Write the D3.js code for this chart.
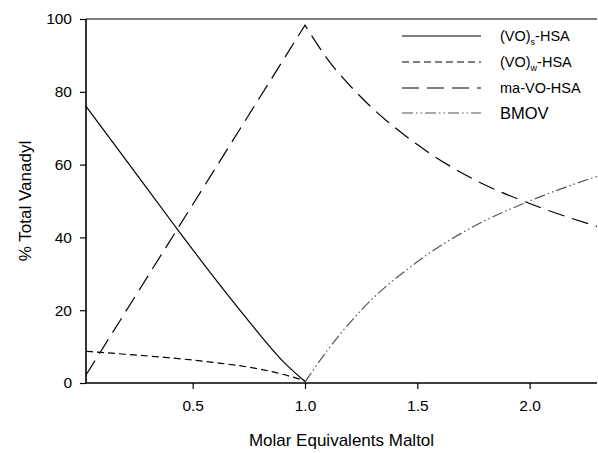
<!DOCTYPE html>
<html>
<head>
<meta charset="utf-8">
<script src="https://cdn.jsdelivr.net/npm/d3@7"></script>
<style>
  html, body { margin: 0; padding: 0; background: #fff; }
  svg { display: block; font-family: "Liberation Sans", Arial, sans-serif; }
</style>
</head>
<body>
<svg id="chart" width="598" height="453"></svg>
<script>
// Species distribution of vanadyl vs. added maltol
const xTicks = [0.5, 1.0, 1.5, 2.0];
const yTicks = [0, 20, 40, 60, 80, 100];

// (VO)s-HSA
const strongX = [0.025, 0.2, 0.42, 0.6, 0.755, 0.9, 1.0];
const strongY = [76, 61.5, 43.2, 28.6, 16.6, 6.1, 0.4];

// (VO)w-HSA
const weakX = [0.025, 0.2, 0.4, 0.6, 0.8, 0.9, 1.0];
const weakY = [8.7, 7.9, 6.9, 5.6, 3.8, 2.4, 0.6];

// ma-VO-HSA (straight rise to the peak, then decay)
const maRiseX = [0.025, 1.0];
const maRiseY = [2.2, 98.3];
const maFallX = [1.0, 1.1, 1.25, 1.5, 1.75, 2.0, 2.3];
const maFallY = [98.3, 89, 78.5, 65.5, 56, 49.3, 43];

// BMOV
const bmovX = [1.0, 1.1, 1.25, 1.5, 1.75, 2.0, 2.3];
const bmovY = [0.3, 9, 20, 33.3, 43, 50, 56.8];

const legendItems = [
  { base: "(VO)", sub: "s", rest: "-HSA", dash: null, color: "#000" },
  { base: "(VO)", sub: "w", rest: "-HSA", dash: "7,4", color: "#000" },
  { base: "ma-VO-HSA", sub: "", rest: "", dash: "17,8", color: "#000" },
  { base: "BMOV", sub: "", rest: "", dash: "11,3,1.5,3,1.5,3", color: "#555" }
];

const svg = d3.select("#chart");
const margin = { left: 86, right: 1, top: 19, bottom: 70 };
const W = 598, H = 453;

const x = d3.scaleLinear().domain([0.025, 2.3]).range([margin.left, W - margin.right]);
const y = d3.scaleLinear().domain([0, 100]).range([H - margin.bottom, margin.top]);

const zip = (xs, ys) => xs.map((v, i) => [v, ys[i]]);
const smooth = d3.line().x(d => x(d[0])).y(d => y(d[1])).curve(d3.curveMonotoneX);
const straight = d3.line().x(d => x(d[0])).y(d => y(d[1])).curve(d3.curveLinear);

const plot = svg.append("g");

function drawPath(d, dash, color) {
  plot.append("path")
    .attr("d", d)
    .attr("fill", "none")
    .attr("stroke", color)
    .attr("stroke-width", 1.2)
    .attr("stroke-dasharray", dash);
}

drawPath(smooth(zip(strongX, strongY)), null, "#000");
drawPath(smooth(zip(weakX, weakY)), "7,4", "#000");
// one continuous path so the dash pattern runs through the sharp peak
const maPath = straight(zip(maRiseX, maRiseY)) + smooth(zip(maFallX, maFallY)).replace(/^M[^C]*?(?=C)/, "");
drawPath(maPath, "17,8", "#000");
drawPath(smooth(zip(bmovX, bmovY)), "11,3,1.5,3,1.5,3", "#555");

// Top frame line
svg.append("line")
  .attr("x1", margin.left).attr("x2", W - margin.right)
  .attr("y1", y(100)).attr("y2", y(100))
  .attr("stroke", "#000").attr("stroke-width", 1.2);

// Axes
const xAxis = d3.axisBottom(x).tickValues(xTicks).tickFormat(d3.format(".1f")).tickSize(6).tickPadding(11);
const yAxis = d3.axisLeft(y).tickValues(yTicks).tickFormat(d3.format("d")).tickSize(6).tickPadding(8);

const gx = svg.append("g").attr("transform", `translate(0,${y(0)})`).call(xAxis);
const gy = svg.append("g").attr("transform", `translate(${margin.left},0)`).call(yAxis);

[gx, gy].forEach(g => {
  g.select(".domain").attr("stroke", "#000").attr("stroke-width", 1.6);
  g.selectAll(".tick line").attr("stroke", "#000").attr("stroke-width", 1.2);
  g.selectAll(".tick text")
    .attr("fill", "#000")
    .style("font-size", "15.5px")
    .style("font-family", "Liberation Sans, Arial, sans-serif");
});
gy.select(".domain").attr("d", `M0,${y(0)}V${y(100)}`);
gx.select(".domain").attr("d", `M${margin.left},0H${W - margin.right}`);

// Axis titles
svg.append("text")
  .attr("x", (margin.left + W - margin.right) / 2)
  .attr("y", 446)
  .attr("text-anchor", "middle")
  .style("font-size", "17px")
  .text("Molar Equivalents Maltol");

svg.append("text")
  .attr("transform", `translate(31,${(y(0) + y(100)) / 2}) rotate(-90)`)
  .attr("text-anchor", "middle")
  .style("font-size", "17px")
  .text("% Total Vanadyl");

// Legend
const legend = svg.append("g");
const rowY = [36, 62, 88, 113];
legendItems.forEach((item, i) => {
  legend.append("line")
    .attr("x1", 402).attr("x2", 481)
    .attr("y1", rowY[i]).attr("y2", rowY[i])
    .attr("stroke", item.color)
    .attr("stroke-width", 1.2)
    .attr("stroke-dasharray", item.dash);
  const big = item.base === "BMOV";
  const t = legend.append("text")
    .attr("x", 500)
    .attr("y", rowY[i] + (big ? 6 : 5))
    .style("font-size", big ? "16.5px" : "14.5px");
  t.append("tspan").text(item.base);
  if (item.sub) {
    t.append("tspan").attr("dy", 4).style("font-size", "9px").text(item.sub);
    t.append("tspan").attr("dy", -4).text(item.rest);
  }
});
</script>
</body>
</html>
